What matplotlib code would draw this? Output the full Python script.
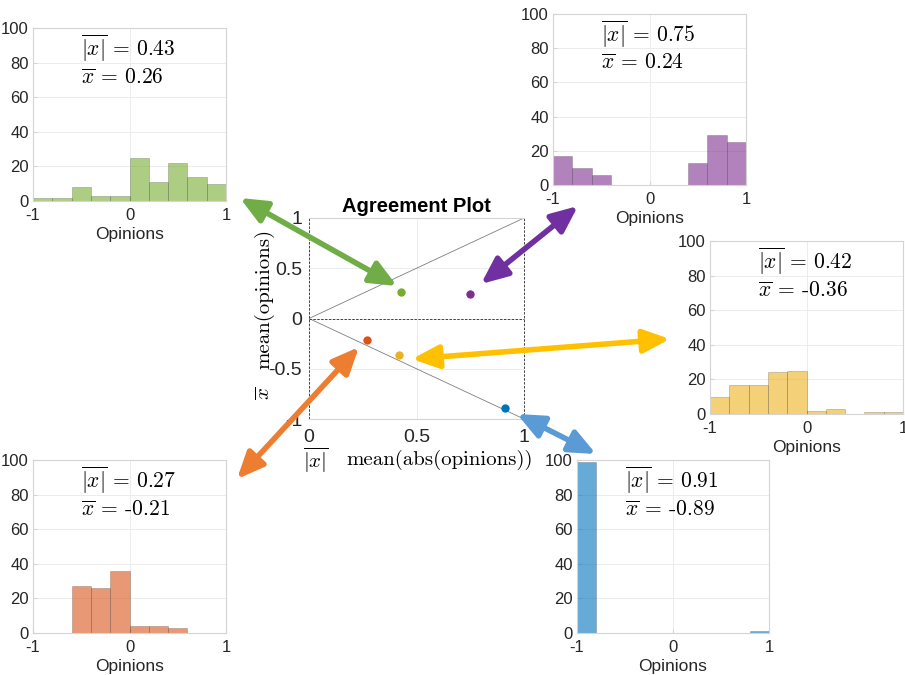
import numpy as np
import matplotlib
matplotlib.use("Agg")
import matplotlib.pyplot as plt
from matplotlib.colors import to_rgba
from matplotlib.patches import FancyArrowPatch

plt.rcParams['font.family'] = ['Liberation Sans', 'DejaVu Sans']
plt.rcParams['mathtext.fontset'] = 'cm'

W, H = 905, 675

# histogram bins and counts (10 bins on [-1, 1])
edges = np.linspace(-1, 1, 11)
green_counts = [2, 2, 8, 3, 3, 25, 11, 22, 14, 10]
purple_counts = [17, 10, 6, 0, 0, 0, 0, 13, 29, 25]
yellow_counts = [10, 17, 17, 24, 25, 2, 3, 0, 1, 1]
orange_counts = [0, 0, 27, 26, 36, 4, 4, 3, 0, 0]
blue_counts = [99, 0, 0, 0, 0, 0, 0, 0, 0, 1]

# summary statistics shown on the agreement plot
mean_abs = [0.43, 0.75, 0.42, 0.27, 0.91]
mean_val = [0.26, 0.24, -0.36, -0.21, -0.89]
abs_labels = ["0.43", "0.75", "0.42", "0.27", "0.91"]
mean_labels = ["0.26", "0.24", "-0.36", "-0.21", "-0.89"]

colors = ['#77AC30', '#7E2F8E', '#EDB120', '#D95319', '#0072BD']
arrow_colors = ['#70AD47', '#7030A0', '#FFC000', '#ED7D31', '#5B9BD5']

# axes boxes in pixels: left, top, right, bottom
boxes = [(33, 28, 226, 201), (553, 14, 746, 185), (710, 241, 903, 414),
         (33, 460, 226, 633), (577, 460, 769, 633)]
counts = [green_counts, purple_counts, yellow_counts, orange_counts, blue_counts]

# arrow end points in pixels
arrows = [((240, 198), (397, 286)), ((578, 206), (481, 284)),
          ((670, 339), (412, 359)), ((237, 479), (359, 347)),
          ((596, 454), (517, 414))]

grey = '#262626'
light = '#d4d4d4'


def px_box(b):
    l, t, r, bt = b
    return [l / W, 1 - bt / H, (r - l) / W, (bt - t) / H]


def style_axes(ax):
    for s in ax.spines.values():
        s.set_color(light)
        s.set_linewidth(0.8)
    ax.tick_params(direction='in', length=3, color=light, labelcolor=grey,
                   labelsize=12)
    ax.tick_params(axis='x', pad=5)
    ax.tick_params(axis='y', pad=3)
    ax.grid(True, color='#ececec', linewidth=0.7)
    ax.set_axisbelow(True)


fig = plt.figure(figsize=(W / 100, H / 100), dpi=100)

for i in range(5):
    ax = fig.add_axes(px_box(boxes[i]))
    ax.hist(edges[:-1], bins=edges, weights=counts[i],
            facecolor=to_rgba(colors[i], 0.6),
            edgecolor=(0.15, 0.15, 0.15, 0.22), linewidth=0.7)
    ax.set_xlim(-1, 1)
    ax.set_ylim(0, 100)
    ax.set_xticks([-1, 0, 1])
    ax.set_xticklabels(['-1', '0', '1'])
    ax.set_yticks(range(0, 101, 20))
    style_axes(ax)
    ax.set_xlabel('Opinions', fontsize=12.5, color=grey, labelpad=3)
    ax.text(0.25, 0.88, r'$\overline{|x|}$ = ' + abs_labels[i], transform=ax.transAxes,
            fontsize=15.5, family='cmr10', va='center', ha='left')
    ax.text(0.25, 0.71, r'$\overline{x}$ = ' + mean_labels[i], transform=ax.transAxes,
            fontsize=15.5, family='cmr10', va='center', ha='left')

# central agreement plot
ax = fig.add_axes(px_box((309, 218, 524, 419)))
ax.plot([0, 1], [0, 1], color='#7f7f7f', lw=0.6)
ax.plot([0, 1], [0, -1], color='#7f7f7f', lw=0.6)
for ln in [ax.axhline(0), ax.axvline(0), ax.axvline(1)]:
    ln.set(color='#404040', ls='--', lw=0.7, dashes=(2.5, 1.5), clip_on=False)
for i in range(5):
    ax.plot(mean_abs[i], mean_val[i], 'o', color=colors[i], ms=6, mec='none')
ax.set_xlim(0, 1)
ax.set_ylim(-1, 1)
ax.set_xticks([0, 0.5, 1])
ax.set_xticklabels(['0', '0.5', '1'])
ax.set_yticks([-1, -0.5, 0, 0.5, 1])
ax.set_yticklabels(['-1', '-0.5', '0', '0.5', '1'])
style_axes(ax)
ax.tick_params(labelsize=14, length=0)
ax.tick_params(axis='x', pad=7)
ax.tick_params(axis='y', pad=5)
ax.spines['left'].set_visible(False)
ax.spines['right'].set_visible(False)
ax.set_title('Agreement Plot', fontsize=14.5, fontweight='bold', pad=4)
fig.text(264 / W, 1 - 299 / H, 'mean(opinions)', rotation=90, family='cmr10',
         fontsize=15, ha='center', va='center')
fig.text(264 / W, 1 - 393 / H, r'$\overline{x}$', rotation=90,
         fontsize=15, ha='center', va='center')
fig.text(440 / W, 1 - 460 / H, 'mean(abs(opinions))', family='cmr10',
         fontsize=15, ha='center', va='center')
fig.text(316 / W, 1 - 460 / H, r'$\overline{|x|}$',
         fontsize=15, ha='center', va='center')

# double-headed arrows linking histograms to points
for (a, b), c in zip(arrows, arrow_colors):
    arr = FancyArrowPatch((a[0] / W, 1 - a[1] / H), (b[0] / W, 1 - b[1] / H),
                          transform=fig.transFigure,
                          arrowstyle='<|-|>,head_length=1.6,head_width=0.7',
                          mutation_scale=10, lw=4, color=c,
                          shrinkA=0, shrinkB=0, zorder=10)
    fig.add_artist(arr)

fig.savefig('out.png', dpi=100)
